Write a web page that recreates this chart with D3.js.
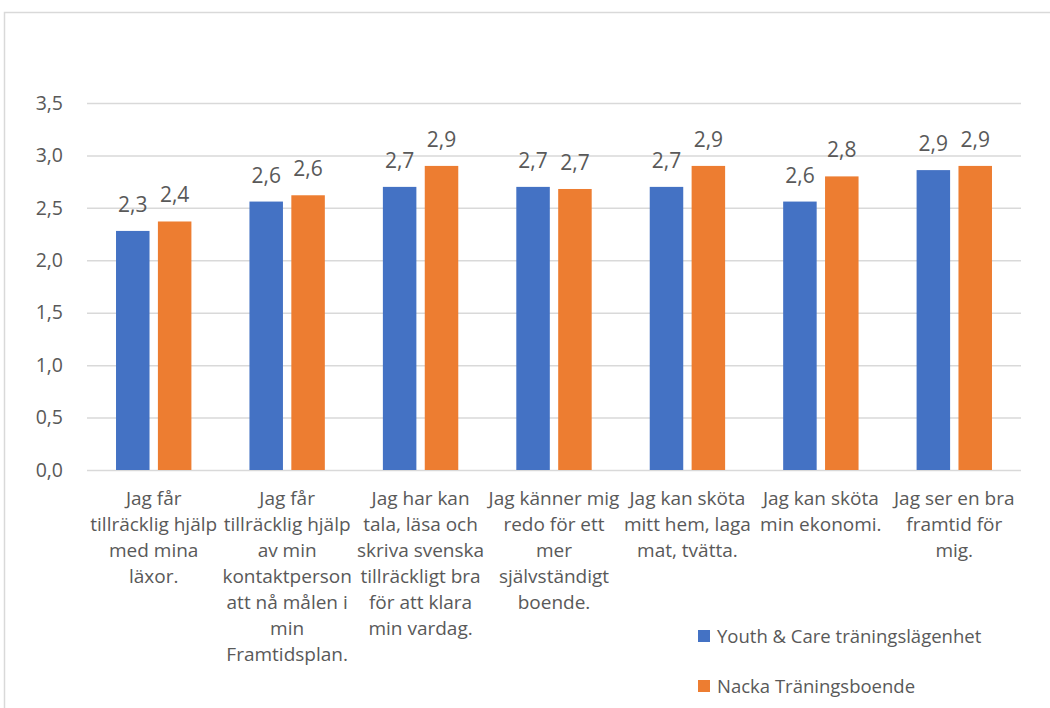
<!DOCTYPE html>
<html>
<head>
<meta charset="utf-8">
<script src="https://cdn.jsdelivr.net/npm/d3@7"></script>
<style>
  body { margin: 0; background: #fff; }
  svg text { font-family: "Open Sans", "Noto Sans", sans-serif; fill: #595959; }
</style>
</head>
<body>
<div id="chart"></div>
<script>
// category labels, already wrapped the way the picture shows them
const categories = [
    ["Jag får", "tillräcklig hjälp", "med mina", "läxor."],
    ["Jag får", "tillräcklig hjälp", "av min", "kontaktperson", "att nå målen i", "min", "Framtidsplan."],
    ["Jag har kan", "tala, läsa och", "skriva svenska", "tillräckligt bra", "för att klara", "min vardag."],
    ["Jag känner mig", "redo för ett", "mer", "självständigt", "boende."],
    ["Jag kan sköta", "mitt hem, laga", "mat, tvätta."],
    ["Jag kan sköta", "min ekonomi."],
    ["Jag ser en bra", "framtid för", "mig."]
];
const seriesNames = ["Youth & Care träningslägenhet", "Nacka Träningsboende"];
const youthCare = [2.28, 2.56, 2.70, 2.70, 2.70, 2.56, 2.86];
const nacka = [2.37, 2.62, 2.90, 2.68, 2.90, 2.80, 2.90];
const yTicks = [0, 0.5, 1, 1.5, 2, 2.5, 3, 3.5];
const colors = ["#4472C4", "#ED7D31"];

const width = 1050, height = 708;
const margin = { left: 87, right: 29, top: 103, bottom: 238 };
const fmt = v => v.toFixed(1).replace(".", ",");

const svg = d3.select("#chart").append("svg")
    .attr("width", width)
    .attr("height", height);

// outer chart frame
svg.append("rect")
    .attr("x", 4.5).attr("y", 12.5)
    .attr("width", width + 10).attr("height", height + 10)
    .attr("fill", "none")
    .attr("stroke", "#D9D9D9")
    .attr("stroke-width", 1.5);

const x = d3.scaleBand()
    .domain(d3.range(categories.length))
    .range([margin.left, width - margin.right])
    .paddingInner(0.435)
    .paddingOuter(0.2175);

const x1 = d3.scaleBand()
    .domain([0, 1])
    .range([0, x.bandwidth()])
    .paddingInner(0.2);

const y = d3.scaleLinear()
    .domain([0, 3.5])
    .range([height - margin.bottom, margin.top]);

// gridlines + y labels
const yAxis = svg.append("g")
    .attr("transform", `translate(${margin.left},0)`)
    .call(d3.axisLeft(y)
        .tickValues(yTicks)
        .tickSize(-(width - margin.left - margin.right))
        .tickPadding(24)
        .tickFormat(fmt));
yAxis.select(".domain").remove();
yAxis.selectAll(".tick line").attr("stroke", "#D9D9D9").attr("stroke-width", 1.5);
yAxis.selectAll(".tick text")
    .style("font-size", "19.5px")
    .attr("fill", "#595959");

const series = [youthCare, nacka];

series.forEach(function(values, s) {
    const g = svg.append("g");
    g.selectAll("rect")
        .data(values)
        .enter().append("rect")
        .attr("x", (d, i) => x(i) + x1(s))
        .attr("y", d => y(d))
        .attr("width", x1.bandwidth())
        .attr("height", d => y(0) - y(d))
        .attr("fill", colors[s]);

    g.selectAll("text")
        .data(values)
        .enter().append("text")
        .attr("x", (d, i) => x(i) + x1(s) + x1.bandwidth() / 2)
        .attr("y", d => y(d) - 19)
        .attr("text-anchor", "middle")
        .style("font-size", "21px")
        .text(d => fmt(d));
});

// category labels
const catG = svg.append("g");
categories.forEach(function(lines, i) {
    const t = catG.append("text")
        .attr("x", x(i) + x.bandwidth() / 2)
        .attr("y", y(0) + 35)
        .attr("text-anchor", "middle")
        .style("font-size", "19px");
    lines.forEach(function(line, j) {
        t.append("tspan")
            .attr("x", x(i) + x.bandwidth() / 2)
            .attr("dy", j === 0 ? 0 : 26)
            .text(line);
    });
});

// legend
const legend = svg.append("g");
seriesNames.forEach(function(name, s) {
    const ly = 636 + s * 50;
    legend.append("rect")
        .attr("x", 698).attr("y", ly - 6)
        .attr("width", 12).attr("height", 12)
        .attr("fill", colors[s]);
    legend.append("text")
        .attr("x", 717).attr("y", ly + 7)
        .style("font-size", "18.5px")
        .text(name);
});
</script>
</body>
</html>
